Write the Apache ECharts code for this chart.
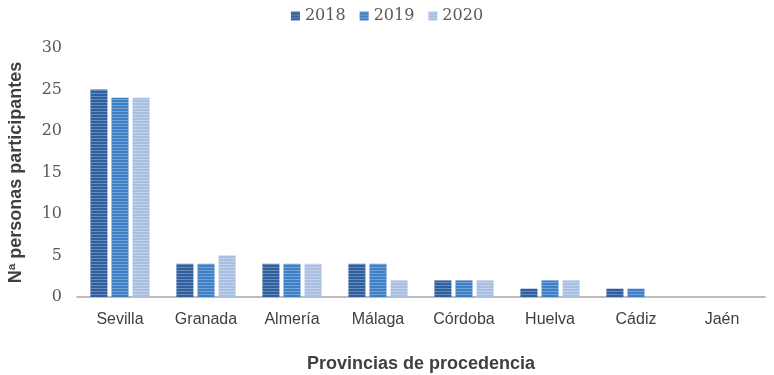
<!DOCTYPE html>
<html>
<head>
<meta charset="utf-8">
<script src="https://cdn.jsdelivr.net/npm/echarts@6/dist/echarts.min.js"></script>
<style>
  html, body { margin: 0; padding: 0; background: #fff; }
  #chart { width: 774px; height: 375px; }
</style>
</head>
<body>
<div id="chart"></div>
<script>
const provincias = ['Sevilla', 'Granada', 'Almería', 'Málaga', 'Córdoba', 'Huelva', 'Cádiz', 'Jaén']
const years = ['2018', '2019', '2020']
const data2018 = [25, 4, 4, 4, 2, 1, 1, 0]
const data2019 = [24, 4, 4, 4, 2, 2, 1, 0]
const data2020 = [24, 5, 4, 2, 2, 2, 0, 0]
const yTicks = [0, 5, 10, 15, 20, 25, 30]

const colors = ['#2f5f9e', '#3f7fc6', '#a9bfe2']
const seriesData = [data2018, data2019, data2020]

const chart = echarts.init(document.getElementById('chart'))

// horizontal stripes like the original bitmap fill
const stripes = {
  symbol: 'rect',
  dashArrayX: [1, 0],
  dashArrayY: [1, 2],
  rotation: 0,
  color: 'rgba(255,255,255,0.28)',
}

chart.setOption({
  animation: false,
  legend: {
    top: 3,
    left: 'center',
    itemWidth: 9,
    itemHeight: 9,
    itemGap: 14,
    icon: 'rect',
    textStyle: { fontFamily: 'DejaVu Serif', fontSize: 16, color: '#595959' },
    data: years,
  },
  grid: { left: 77, right: 9, top: 48, bottom: 78, outerBoundsMode: 'none' },
  xAxis: {
    type: 'category',
    data: provincias,
    name: 'Provincias de procedencia',
    nameLocation: 'middle',
    nameGap: 58,
    nameTextStyle: { fontFamily: 'Liberation Sans', fontSize: 18, fontWeight: 'bold', color: '#404040' },
    axisLine: { lineStyle: { color: '#a6a6a6', width: 1.5 } },
    axisTick: { show: false },
    axisLabel: { interval: 0, fontFamily: 'Liberation Sans', fontSize: 16, color: '#404040', margin: 15 },
  },
  yAxis: {
    type: 'value',
    min: yTicks[0],
    max: yTicks[yTicks.length - 1],
    interval: 5,
    name: 'Nª personas participantes',
    nameLocation: 'middle',
    nameGap: 52,
    nameTextStyle: { fontFamily: 'Liberation Sans', fontSize: 18, fontWeight: 'bold', color: '#404040' },
    axisLine: { show: false },
    axisTick: { show: false },
    splitLine: { show: false },
    axisLabel: { fontFamily: 'DejaVu Serif', fontSize: 16, color: '#595959', margin: 15 },
  },
  series: years.map((y, i) => ({
    name: y,
    type: 'bar',
    data: seriesData[i],
    barWidth: 17,
    barGap: '24%',
    itemStyle: { color: colors[i], decal: stripes },
  })),
})
</script>
</body>
</html>
